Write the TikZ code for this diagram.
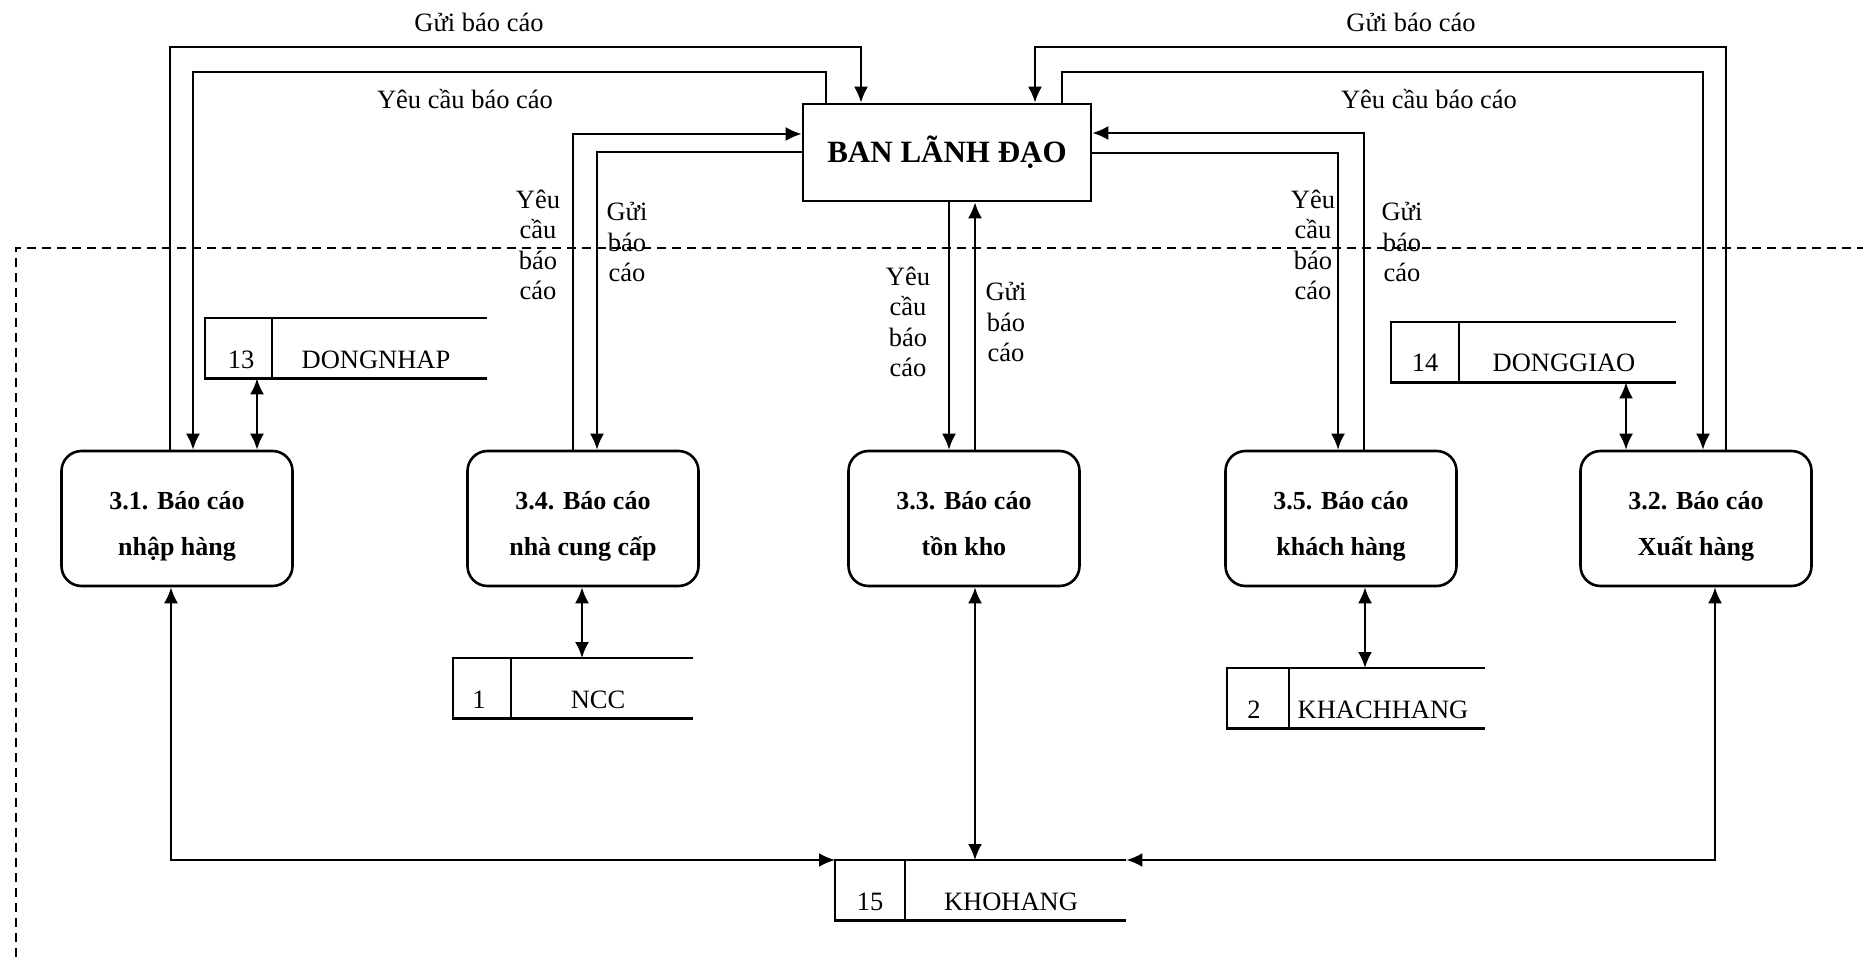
\documentclass[tikz,border=0pt]{standalone}
\usepackage{fontspec}
\setmainfont{Liberation Serif}
\usetikzlibrary{arrows.meta,calc}
\newcommand{\ptop}{\rule{0pt}{33pt}}
\newcommand{\pbot}{\rule[-6pt]{0pt}{6pt}}
\begin{document}
\begin{tikzpicture}[x=1pt,y=-1pt,
  conn/.style={line width=2.2pt,-{Latex[length=16pt,width=14pt]}},
  biconn/.style={line width=2.2pt,{Latex[length=16pt,width=14pt]}-{Latex[length=16pt,width=14pt]}},
  proc/.style={draw,line width=2.6pt,rounded corners=20pt,minimum width=231pt,minimum height=135pt,inner sep=0pt,align=center,font=\fontsize{26}{46}\selectfont\bfseries},
  entity/.style={draw,line width=2.6pt,minimum width=288pt,minimum height=97pt,inner sep=0pt,font=\fontsize{31}{36}\selectfont\bfseries},
  storebox/.style={minimum width=#1,minimum height=60pt,inner sep=0pt,anchor=north west},
  stline/.style={line width=2.6pt},
  lbl/.style={font=\fontsize{26.5}{30.5}\selectfont,align=center,inner sep=0pt},
  stxt/.style={font=\fontsize{26.5}{30}\selectfont,anchor=base,inner sep=0pt},
  boundary/.style={line width=2pt,dash pattern=on 9pt off 6pt}]
\useasboundingbox (0,0) rectangle (1863,957);

% boundary
\draw[boundary] (16,957) -- (16,248) -- (1863,248);

% entity
\node[entity] (ban) at (947,152.5) {BAN LÃNH ĐẠO};

% processes
\node[proc] (p31) at (177,518.5) {\ptop 3.1. Báo cáo\\nhập hàng\pbot};
\node[proc] (p34) at (583,518.5) {\ptop 3.4. Báo cáo\\nhà cung cấp\pbot};
\node[proc] (p33) at (964,518.5) {\ptop 3.3. Báo cáo\\tồn kho\pbot};
\node[proc] (p35) at (1341,518.5) {\ptop 3.5. Báo cáo\\khách hàng\pbot};
\node[proc] (p32) at (1696,518.5) {\ptop 3.2. Báo cáo\\Xuất hàng\pbot};

% stores
\node[storebox=282pt] (s13) at (205,318) {};
\node[storebox=285pt] (s14) at (1391,322) {};
\node[storebox=240pt] (s1) at (453,658) {};
\node[storebox=258pt] (s2) at (1227,668) {};
\node[storebox=291pt] (s15) at (835,860) {};
\foreach \s/\d in {s13/272,s14/1459,s1/511,s2/1289,s15/905}{
  \draw[stline] (\s.north east) -- (\s.north west) -- (\s.south west) -- (\s.south east);
  \draw[stline] (\d,0 |- \s.north) -- (\d,0 |- \s.south);
}
\node[stxt] (n13) at (241,369) {13};
\node[stxt] (t13) at (376,369) {DONGNHAP};
\node[stxt] (n14) at (1425,372) {14};
\node[stxt] (t14) at (1564,372) {DONGGIAO};
\node[stxt] (n1) at (479,708) {1};
\node[stxt] (t1) at (598,708) {NCC};
\node[stxt] (n2) at (1254,718) {2};
\node[stxt] (t2) at (1383,718) {KHACHHANG};
\node[stxt] (n15) at (870,910) {15};
\node[stxt] (t15) at (1011,910) {KHOHANG};

% top-left loops
\draw[conn] (170,0 |- p31.north) -- (170,47) -- (861,47) -- (861,0 |- ban.north);
\draw[conn] (826,0 |- ban.north) -- (826,72) -- (193,72) -- (193,0 |- p31.north);
\draw[biconn] (257,0 |- s13.south) -- (257,0 |- p31.north);

% 3.4
\draw[conn] (573,0 |- p34.north) -- (573,134) -- (ban.west |- 0,134);
\draw[conn] (ban.west |- 0,152) -- (597,152) -- (597,0 |- p34.north);
\draw[biconn] (582,0 |- p34.south) -- (582,0 |- s1.north);

% 3.3
\draw[conn] (949,0 |- ban.south) -- (949,0 |- p33.north);
\draw[conn] (975,0 |- p33.north) -- (975,0 |- ban.south);
\draw[biconn] (975,0 |- p33.south) -- (975,0 |- s15.north);

% 3.5
\draw[conn] (1364,0 |- p35.north) -- (1364,133) -- (ban.east |- 0,133);
\draw[conn] (ban.east |- 0,153) -- (1338,153) -- (1338,0 |- p35.north);
\draw[biconn] (1365,0 |- p35.south) -- (1365,0 |- s2.north);

% top-right loops
\draw[conn] (1726,0 |- p32.north) -- (1726,47) -- (1035,47) -- (1035,0 |- ban.north);
\draw[conn] (1062,0 |- ban.north) -- (1062,72) -- (1703,72) -- (1703,0 |- p32.north);
\draw[biconn] (1626,0 |- s14.south) -- (1626,0 |- p32.north);

% bottom
\draw[biconn] (171,0 |- p31.south) -- (171,0 |- s15.north) -- (s15.north west);
\draw[biconn] (1715,0 |- p32.south) -- (1715,0 |- s15.north) -- (s15.north east);

% labels
\node[lbl] (l1) at (479,22) {Gửi báo cáo};
\node[lbl] (l2) at (1411,22) {Gửi báo cáo};
\node[lbl] (l3) at (465,99) {Yêu cầu báo cáo};
\node[lbl] (l4) at (1429,99) {Yêu cầu báo cáo};
\node[lbl] (l5) at (538,245) {Yêu\\cầu\\báo\\cáo};
\node[lbl] (l6) at (627,242) {Gửi\\báo\\cáo};
\node[lbl] (l7) at (908,322) {Yêu\\cầu\\báo\\cáo};
\node[lbl] (l8) at (1006,322) {Gửi\\báo\\cáo};
\node[lbl] (l9) at (1313,245) {Yêu\\cầu\\báo\\cáo};
\node[lbl] (l10) at (1402,242) {Gửi\\báo\\cáo};
\end{tikzpicture}
\end{document}
